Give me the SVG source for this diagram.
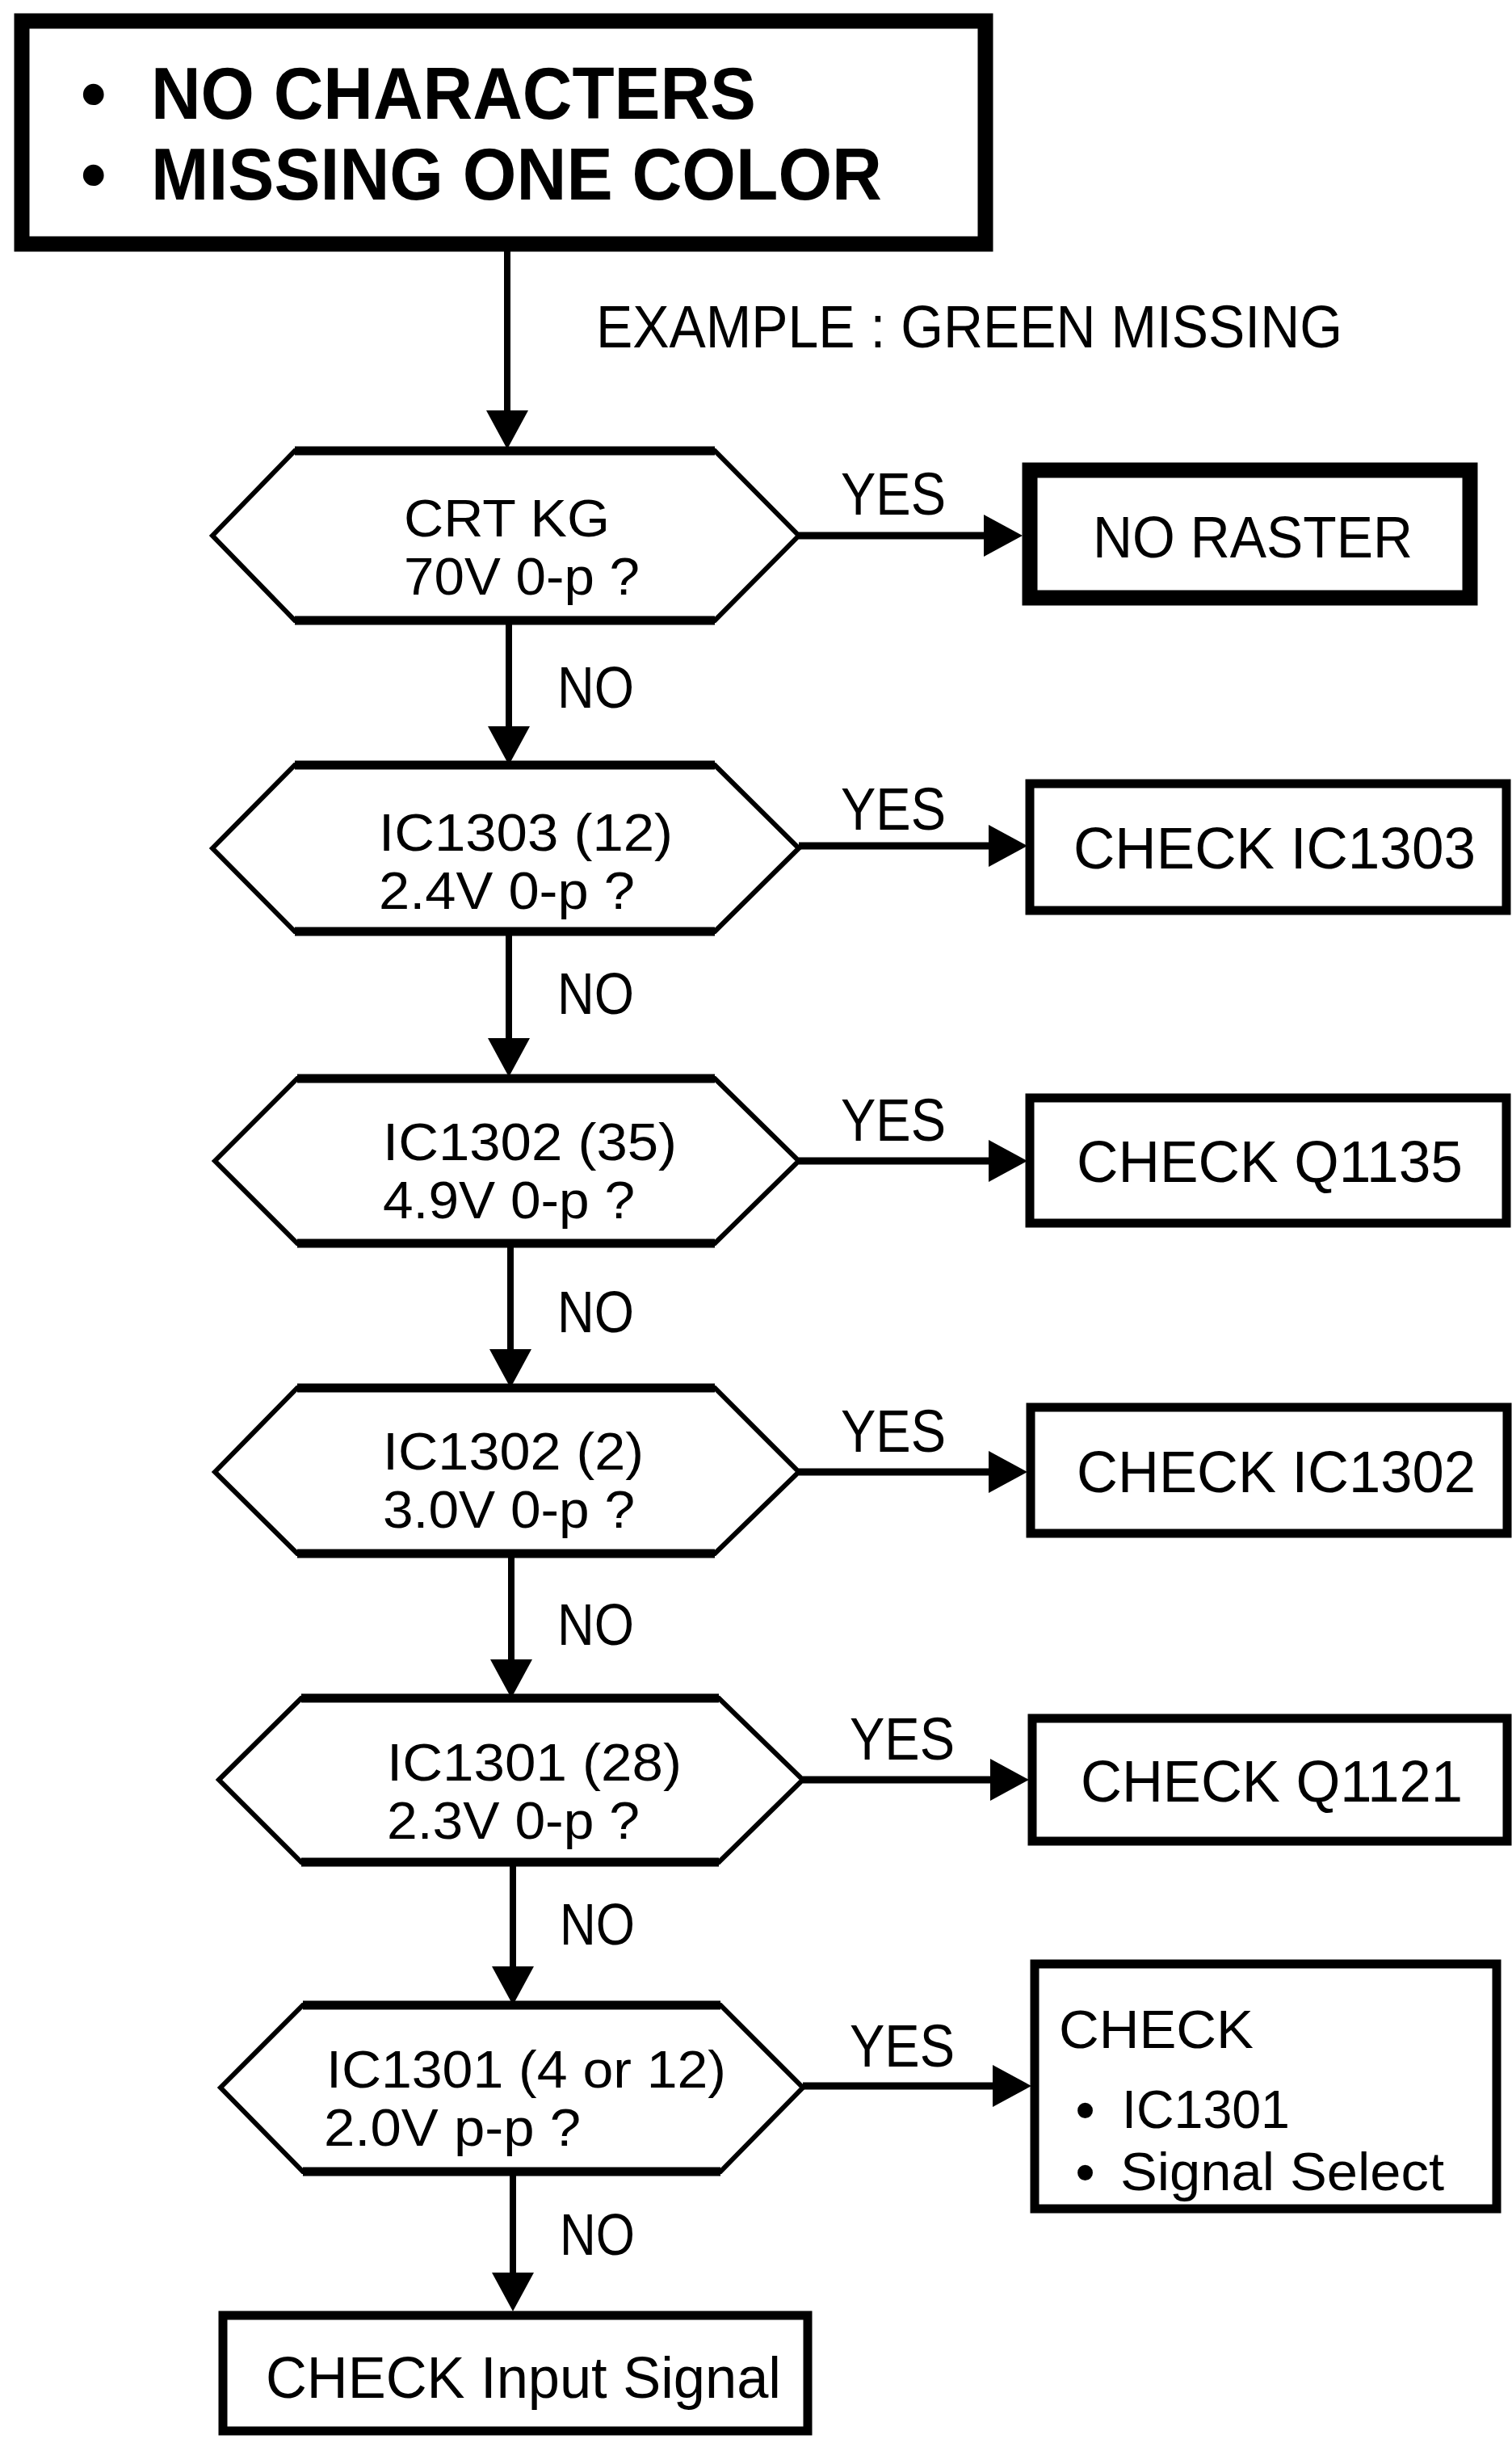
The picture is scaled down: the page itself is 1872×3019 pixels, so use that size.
<svg xmlns="http://www.w3.org/2000/svg" width="1872" height="3019" viewBox="0 0 1872 3019">
<style>
  text { font-family: "Liberation Sans", Arial, sans-serif; fill: #000; }
  .big { font-size: 90px; font-weight: bold; }
  .t { font-size: 72px; }
  .m { font-size: 64px; }
  .s { font-size: 66px; }
  .ex { font-size: 74px; }
  .hex { fill: #fff; stroke: #000; stroke-width: 6; stroke-linejoin: miter; }
  .edge { stroke: #000; stroke-width: 11; }
  .box { fill: #fff; stroke: #000; stroke-width: 11; }
  .thick { fill: #fff; stroke: #000; stroke-width: 19; }
  .conn { stroke: #000; fill: none; marker-end: url(#arrow); }
  .v { stroke-width: 8; }
  .h { stroke-width: 9; }
</style>
<defs>
  <marker id="arrow" viewBox="0 0 48 52" refX="8" refY="26" markerWidth="48" markerHeight="52" markerUnits="userSpaceOnUse" orient="auto">
    <path d="M0,0 L48,26 L0,52 Z" fill="#000"/>
  </marker>
</defs>
<rect width="1872" height="3019" fill="#fff"/>

<g id="connectors">
  <line class="conn v" x1="628" y1="311" x2="628" y2="516"/>
  <line class="conn h" x1="989" y1="663" x2="1226" y2="663"/>
  <line class="conn v" x1="630" y1="768" x2="630" y2="907"/>
  <line class="conn h" x1="989" y1="1047" x2="1232" y2="1047"/>
  <line class="conn v" x1="630" y1="1153" x2="630" y2="1293"/>
  <line class="conn h" x1="989" y1="1437" x2="1232" y2="1437"/>
  <line class="conn v" x1="632" y1="1539" x2="632" y2="1678"/>
  <line class="conn h" x1="989" y1="1822" x2="1232" y2="1822"/>
  <line class="conn v" x1="633" y1="1923" x2="633" y2="2062"/>
  <line class="conn h" x1="994" y1="2203" x2="1234" y2="2203"/>
  <line class="conn v" x1="635" y1="2305" x2="635" y2="2442"/>
  <line class="conn h" x1="994" y1="2582" x2="1237" y2="2582"/>
  <line class="conn v" x1="635" y1="2688" x2="635" y2="2821"/>
  <text class="ex" x="738" y="430" textLength="924" lengthAdjust="spacingAndGlyphs">EXAMPLE : GREEN MISSING</text>
  <text class="ex" x="1041" y="637" textLength="130" lengthAdjust="spacingAndGlyphs">YES</text>
  <text class="t" x="690" y="876" textLength="95" lengthAdjust="spacingAndGlyphs">NO</text>
  <text class="ex" x="1041" y="1027" textLength="130" lengthAdjust="spacingAndGlyphs">YES</text>
  <text class="t" x="690" y="1255" textLength="95" lengthAdjust="spacingAndGlyphs">NO</text>
  <text class="ex" x="1041" y="1412" textLength="130" lengthAdjust="spacingAndGlyphs">YES</text>
  <text class="t" x="690" y="1649" textLength="95" lengthAdjust="spacingAndGlyphs">NO</text>
  <text class="ex" x="1041" y="1797" textLength="130" lengthAdjust="spacingAndGlyphs">YES</text>
  <text class="t" x="690" y="2036" textLength="95" lengthAdjust="spacingAndGlyphs">NO</text>
  <text class="ex" x="1052" y="2178" textLength="130" lengthAdjust="spacingAndGlyphs">YES</text>
  <text class="t" x="693" y="2407" textLength="93" lengthAdjust="spacingAndGlyphs">NO</text>
  <text class="ex" x="1052" y="2558" textLength="130" lengthAdjust="spacingAndGlyphs">YES</text>
  <text class="t" x="693" y="2791" textLength="93" lengthAdjust="spacingAndGlyphs">NO</text>
</g>

<g id="start">
  <rect class="thick" x="27" y="26" width="1193" height="276"/>
  <text class="big"><tspan x="100" y="147">•</tspan><tspan x="187" y="147" textLength="749" lengthAdjust="spacingAndGlyphs">NO CHARACTERS</tspan><tspan x="100" y="247">•</tspan><tspan x="187" y="247" textLength="905" lengthAdjust="spacingAndGlyphs">MISSING ONE COLOR</tspan></text>
</g>

<g id="q1">
  <polygon class="hex" points="263,663 365,558 885,558 989,663 885,768 365,768"/>
  <line class="edge" x1="365" y1="558" x2="885" y2="558"/>
  <line class="edge" x1="365" y1="768" x2="885" y2="768"/>
  <text class="m"><tspan x="500" y="664" textLength="255" lengthAdjust="spacingAndGlyphs">CRT KG</tspan><tspan x="500" y="736" textLength="292" lengthAdjust="spacingAndGlyphs">70V 0-p ?</tspan></text>
</g>
<g id="r1">
  <rect class="thick" x="1275" y="582" width="545" height="158"/>
  <text class="t" x="1353" y="690" textLength="396" lengthAdjust="spacingAndGlyphs">NO RASTER</text>
</g>

<g id="q2">
  <polygon class="hex" points="263,1050 365,947 885,947 989,1050 885,1153 365,1153"/>
  <line class="edge" x1="365" y1="947" x2="885" y2="947"/>
  <line class="edge" x1="365" y1="1153" x2="885" y2="1153"/>
  <text class="m"><tspan x="469" y="1053" textLength="364" lengthAdjust="spacingAndGlyphs">IC1303 (12)</tspan><tspan x="469" y="1125" textLength="317" lengthAdjust="spacingAndGlyphs">2.4V 0-p ?</tspan></text>
</g>
<g id="r2">
  <rect class="box" x="1275" y="970" width="590" height="157"/>
  <text class="t" x="1329" y="1075" textLength="498" lengthAdjust="spacingAndGlyphs">CHECK  IC1303</text>
</g>

<g id="q3">
  <polygon class="hex" points="266,1437 368,1335 885,1335 989,1437 885,1539 368,1539"/>
  <line class="edge" x1="368" y1="1335" x2="885" y2="1335"/>
  <line class="edge" x1="368" y1="1539" x2="885" y2="1539"/>
  <text class="m"><tspan x="474" y="1436" textLength="364" lengthAdjust="spacingAndGlyphs">IC1302 (35)</tspan><tspan x="474" y="1508" textLength="312" lengthAdjust="spacingAndGlyphs">4.9V 0-p ?</tspan></text>
</g>
<g id="r3">
  <rect class="box" x="1275" y="1359" width="590" height="155"/>
  <text class="t" x="1333" y="1463" textLength="478" lengthAdjust="spacingAndGlyphs">CHECK  Q1135</text>
</g>

<g id="q4">
  <polygon class="hex" points="266,1822 368,1718 885,1718 989,1822 885,1923 368,1923"/>
  <line class="edge" x1="368" y1="1718" x2="885" y2="1718"/>
  <line class="edge" x1="368" y1="1923" x2="885" y2="1923"/>
  <text class="m"><tspan x="474" y="1819" textLength="323" lengthAdjust="spacingAndGlyphs">IC1302 (2)</tspan><tspan x="474" y="1891" textLength="312" lengthAdjust="spacingAndGlyphs">3.0V 0-p ?</tspan></text>
</g>
<g id="r4">
  <rect class="box" x="1276" y="1742" width="590" height="156"/>
  <text class="t" x="1333" y="1847" textLength="494" lengthAdjust="spacingAndGlyphs">CHECK  IC1302</text>
</g>

<g id="q5">
  <polygon class="hex" points="271,2203 373,2102 890,2102 994,2203 890,2305 373,2305"/>
  <line class="edge" x1="373" y1="2102" x2="890" y2="2102"/>
  <line class="edge" x1="373" y1="2305" x2="890" y2="2305"/>
  <text class="m"><tspan x="479" y="2204" textLength="365" lengthAdjust="spacingAndGlyphs">IC1301 (28)</tspan><tspan x="479" y="2276" textLength="313" lengthAdjust="spacingAndGlyphs">2.3V 0-p ?</tspan></text>
</g>
<g id="r5">
  <rect class="box" x="1278" y="2127" width="588" height="152"/>
  <text class="t" x="1338" y="2230" textLength="473" lengthAdjust="spacingAndGlyphs">CHECK  Q1121</text>
</g>

<g id="q6">
  <polygon class="hex" points="273,2584 375,2482 892,2482 994,2584 892,2688 375,2688"/>
  <line class="edge" x1="375" y1="2482" x2="892" y2="2482"/>
  <line class="edge" x1="375" y1="2688" x2="892" y2="2688"/>
  <text class="m"><tspan x="404" y="2584" textLength="495" lengthAdjust="spacingAndGlyphs">IC1301 (4 or 12)</tspan><tspan x="401" y="2656" textLength="318" lengthAdjust="spacingAndGlyphs">2.0V p-p ?</tspan></text>
</g>
<g id="r6">
  <rect class="box" x="1281" y="2431" width="572" height="303"/>
  <text class="s"><tspan x="1311" y="2535" textLength="241" lengthAdjust="spacingAndGlyphs">CHECK</tspan><tspan x="1332" y="2634" font-weight="bold">•</tspan><tspan x="1389" y="2634" textLength="208" lengthAdjust="spacingAndGlyphs">IC1301</tspan><tspan x="1332" y="2711" font-weight="bold">•</tspan><tspan x="1387" y="2711" textLength="401" lengthAdjust="spacingAndGlyphs">Signal Select</tspan></text>
</g>

<g id="end">
  <rect class="box" x="276" y="2866" width="724" height="143"/>
  <text class="t" x="329" y="2968" textLength="638" lengthAdjust="spacingAndGlyphs">CHECK  Input Signal</text>
</g>
</svg>
